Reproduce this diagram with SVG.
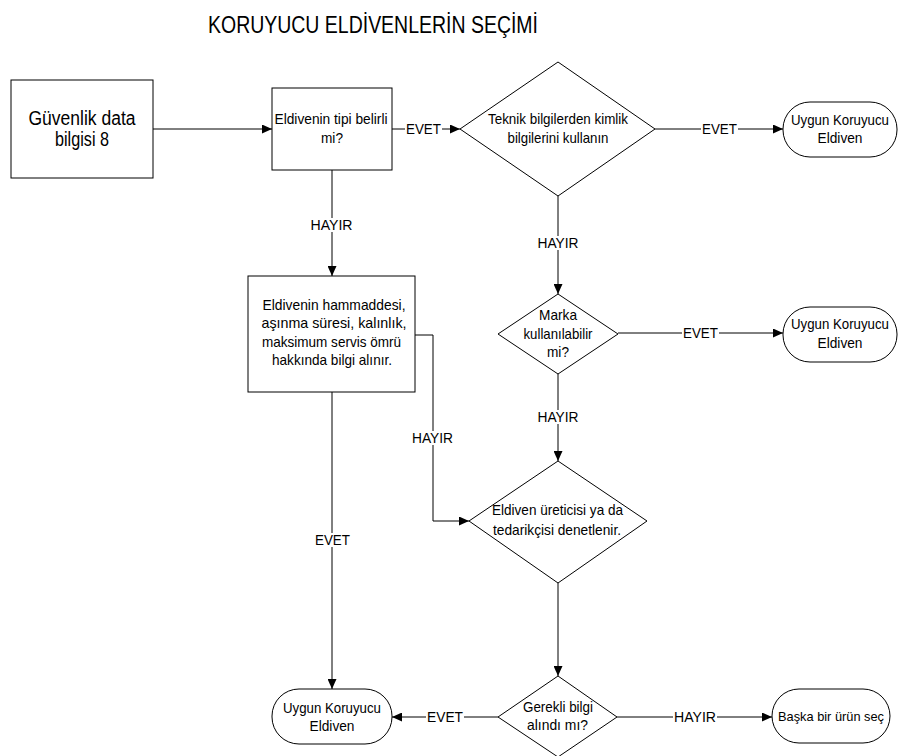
<svg xmlns="http://www.w3.org/2000/svg" width="898" height="756" viewBox="0 0 898 756">
<defs>
<style>
.t{font-family:"Liberation Sans",Arial,sans-serif;font-size:15px;fill:#000;text-anchor:middle}
.tt{font-size:14px}
.s{fill:#fff;stroke:#000;stroke-width:1}
.c{fill:none;stroke:#000;stroke-width:1}
.bg{fill:#fff}
</style>
<marker id="ah" markerUnits="userSpaceOnUse" markerWidth="11" markerHeight="9" refX="10" refY="4.5" orient="auto">
<path d="M0,0 L10,4.5 L0,9 z" fill="#000"/>
</marker>
</defs>
<rect width="898" height="756" fill="#fff"/>
<text class="t" x="373" y="33" style="font-size:24px" textLength="330" lengthAdjust="spacingAndGlyphs">KORUYUCU ELDİVENLERİN SEÇİMİ</text>

<g id="connectors">
<path class="c" d="M153,129 H272" marker-end="url(#ah)"/>
<path class="c" d="M392,129 H460" marker-end="url(#ah)"/>
<path class="c" d="M332,170 V276" marker-end="url(#ah)"/>
<path class="c" d="M655,129 H783" marker-end="url(#ah)"/>
<path class="c" d="M558,196 V294" marker-end="url(#ah)"/>
<path class="c" d="M618,333 H783" marker-end="url(#ah)"/>
<path class="c" d="M558,374 V461" marker-end="url(#ah)"/>
<path class="c" d="M415,335 H433 V521 H469" marker-end="url(#ah)"/>
<path class="c" d="M332,392 V689" marker-end="url(#ah)"/>
<path class="c" d="M558,583 V676" marker-end="url(#ah)"/>
<path class="c" d="M498,717 H392" marker-end="url(#ah)"/>
<path class="c" d="M617,717 H772" marker-end="url(#ah)"/>
<g id="labels">
<rect class="bg" x="405" y="122" width="37" height="14"/>
<text class="t" x="423.5" y="134" textLength="35" lengthAdjust="spacingAndGlyphs">EVET</text>
<rect class="bg" x="310" y="218" width="43" height="14"/>
<text class="t" x="331.5" y="230" textLength="42" lengthAdjust="spacingAndGlyphs">HAYIR</text>
<rect class="bg" x="701" y="122" width="37" height="14"/>
<text class="t" x="719.5" y="134" textLength="35" lengthAdjust="spacingAndGlyphs">EVET</text>
<rect class="bg" x="537" y="236" width="43" height="14"/>
<text class="t" x="558" y="248" textLength="41" lengthAdjust="spacingAndGlyphs">HAYIR</text>
<rect class="bg" x="682" y="326" width="37" height="14"/>
<text class="t" x="700.5" y="338" textLength="35" lengthAdjust="spacingAndGlyphs">EVET</text>
<rect class="bg" x="537" y="410" width="43" height="14"/>
<text class="t" x="558" y="422" textLength="41" lengthAdjust="spacingAndGlyphs">HAYIR</text>
<rect class="bg" x="411" y="431" width="43" height="14"/>
<text class="t" x="432.5" y="443" textLength="41" lengthAdjust="spacingAndGlyphs">HAYIR</text>
<rect class="bg" x="314" y="533" width="37" height="14"/>
<text class="t" x="332.5" y="545" textLength="35" lengthAdjust="spacingAndGlyphs">EVET</text>
<rect class="bg" x="426" y="710" width="38" height="14"/>
<text class="t" x="445" y="722" textLength="36" lengthAdjust="spacingAndGlyphs">EVET</text>
<rect class="bg" x="673" y="710" width="44" height="14"/>
<text class="t" x="695" y="722" textLength="42" lengthAdjust="spacingAndGlyphs">HAYIR</text>
</g>
</g>

<g id="n_guvenlik">
<rect class="s" x="11" y="80" width="142" height="98"/>
<text class="t" x="82" y="125" style="font-size:20px" textLength="107" lengthAdjust="spacingAndGlyphs">Güvenlik data</text>
<text class="t" x="82" y="146" style="font-size:20px" textLength="54" lengthAdjust="spacingAndGlyphs">bilgisi 8</text>
</g>

<g id="n_tipi">
<rect class="s" x="272" y="88" width="120" height="82"/>
<text class="t" x="331" y="124" textLength="113" lengthAdjust="spacingAndGlyphs">Eldivenin tipi belirli</text>
<text class="t" x="332" y="143" textLength="22" lengthAdjust="spacingAndGlyphs">mi?</text>
</g>

<g id="n_teknik">
<path class="s" d="M558,62 L655,129 L558,196 L460,129 Z"/>
<text class="t" x="558" y="124" textLength="140" lengthAdjust="spacingAndGlyphs">Teknik bilgilerden kimlik</text>
<text class="t" x="558" y="143" textLength="101" lengthAdjust="spacingAndGlyphs">bilgilerini kullanın</text>
</g>

<g id="n_uygun1">
<rect class="s" x="783" y="102" width="114" height="55" rx="27" ry="27"/>
<text class="t tt" x="840" y="125" textLength="98" lengthAdjust="spacingAndGlyphs">Uygun Koruyucu</text>
<text class="t tt" x="840" y="143" textLength="45" lengthAdjust="spacingAndGlyphs">Eldiven</text>
</g>

<g id="n_marka">
<path class="s" d="M558,294 L618,334 L558,374 L498,334 Z"/>
<text class="t" x="558" y="320" textLength="38" lengthAdjust="spacingAndGlyphs">Marka</text>
<text class="t" x="558" y="339" textLength="69" lengthAdjust="spacingAndGlyphs">kullanılabilir</text>
<text class="t" x="558" y="357" textLength="22" lengthAdjust="spacingAndGlyphs">mi?</text>
</g>

<g id="n_uygun2">
<rect class="s" x="783" y="307" width="114" height="55" rx="27" ry="27"/>
<text class="t tt" x="840" y="329" textLength="98" lengthAdjust="spacingAndGlyphs">Uygun Koruyucu</text>
<text class="t tt" x="840" y="348" textLength="45" lengthAdjust="spacingAndGlyphs">Eldiven</text>
</g>

<g id="n_hammadde">
<rect class="s" x="248" y="276" width="167" height="116"/>
<text class="t" x="334" y="310" textLength="143" lengthAdjust="spacingAndGlyphs">Eldivenin hammaddesi,</text>
<text class="t" x="334" y="328" textLength="145" lengthAdjust="spacingAndGlyphs">aşınma süresi, kalınlık,</text>
<text class="t" x="331.5" y="347" textLength="139" lengthAdjust="spacingAndGlyphs">maksimum servis ömrü</text>
<text class="t" x="332" y="365" textLength="120" lengthAdjust="spacingAndGlyphs">hakkında bilgi alınır.</text>
</g>

<g id="n_uretici">
<path class="s" d="M558,461 L647,521 L558,583 L469,521 Z"/>
<text class="t" x="557.5" y="515" textLength="131" lengthAdjust="spacingAndGlyphs">Eldiven üreticisi ya da</text>
<text class="t" x="557" y="535" textLength="128" lengthAdjust="spacingAndGlyphs">tedarikçisi denetlenir.</text>
</g>

<g id="n_gerekli">
<path class="s" d="M558,676 L617,717 L558,757 L498,717 Z"/>
<text class="t" x="558" y="712" textLength="70" lengthAdjust="spacingAndGlyphs">Gerekli bilgi</text>
<text class="t" x="557.5" y="730" textLength="61" lengthAdjust="spacingAndGlyphs">alındı mı?</text>
</g>

<g id="n_uygun3">
<rect class="s" x="272" y="689" width="120" height="55" rx="27" ry="27"/>
<text class="t tt" x="332" y="713" textLength="98" lengthAdjust="spacingAndGlyphs">Uygun Koruyucu</text>
<text class="t tt" x="332" y="731" textLength="45" lengthAdjust="spacingAndGlyphs">Eldiven</text>
</g>

<g id="n_baska">
<rect class="s" x="772" y="689" width="118" height="54" rx="27" ry="27"/>
<text class="t" x="831" y="721" style="font-size:13.5px" textLength="106" lengthAdjust="spacingAndGlyphs">Başka bir ürün seç</text>
</g>
</svg>
